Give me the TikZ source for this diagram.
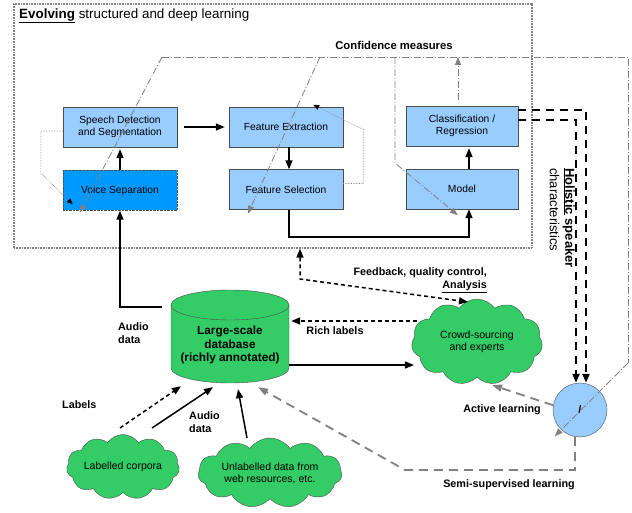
\documentclass[tikz,border=0pt]{standalone}
\usepackage{fontspec}
\setmainfont{Liberation Sans}
\usetikzlibrary{arrows.meta,shapes.symbols,calc}
\definecolor{lblue}{RGB}{153,204,255}
\definecolor{dblue}{RGB}{0,153,255}
\definecolor{dgreen}{RGB}{51,204,102}
\definecolor{lgray}{RGB}{128,128,128}
\begin{document}
\begin{tikzpicture}[x=1pt,y=-1pt,
  box/.style={draw=black!70, fill=lblue, minimum width=114pt, minimum height=40pt, inner sep=1pt, align=center, font=\fontsize{10.3}{12}\selectfont},
  cloudst/.style={cloud, cloud puffs=11, cloud puff arc=110, cloud ignores aspect, draw=black!70, fill=dgreen, inner sep=0pt, align=center, font=\fontsize{10.5}{12}\selectfont},
  thk/.style={line width=1.5pt, -{Triangle[length=9pt,width=7pt]}},
  dsh/.style={line width=1.5pt, dash pattern=on 4pt off 3pt, -{Triangle[length=9pt,width=7pt]}},
  gd/.style={draw=lgray, line width=1.8pt, dash pattern=on 9pt off 6pt, -{Triangle[length=10pt,width=7pt]}},
  hd/.style={line width=2.2pt, dash pattern=on 8pt off 6pt, -{Triangle[length=9pt,width=7pt]}},
  confl/.style={draw=lgray, line width=0.8pt, dash pattern=on 7pt off 2pt on 1pt off 2pt},
  confa/.style={confl, -{Triangle[length=8pt,width=6pt]}},
  dt/.style={draw=lgray, line width=0.6pt, densely dotted, -{Triangle[length=6pt,width=5pt,color=black]}},
  lab/.style={font=\bfseries\fontsize{10.8}{13}\selectfont, inner sep=0pt, align=left}
]
\useasboundingbox (0,0) rectangle (632,513);

% evolving box
\node[draw=lgray, line width=1.3pt, dash pattern=on 1pt off 0.6pt, minimum width=518pt, minimum height=244pt, inner sep=0pt] (evo) at (273,126) {};
\node[anchor=west, font=\fontsize{13.4}{15}\selectfont, inner sep=0pt] (title) at (19,16) {\textbf{\underline{Evolving}} structured and deep learning};
\node[lab, font=\bfseries\fontsize{11.3}{13}\selectfont] (lcm) at (394,45) {Confidence measures};

% boxes
\node[box] (sds) at (120,127) {Speech Detection\\and Segmentation};
\node[box, fill=dblue, densely dotted] (vs) at (120,190.5) {Voice Separation};
\node[box] (fe) at (286,127) {Feature Extraction};
\node[box] (fs) at (286,189.5) {Feature Selection};
\node[box, minimum width=112pt] (cr) at (462,126) {Classification /\\Regression};
\node[box, minimum width=112pt] (mo) at (462,189) {Model};

% database cylinder
\fill[dgreen] (171,305) -- (171,368) arc[start angle=180, end angle=0, x radius=59, y radius=15] -- (289,305) arc[start angle=0, end angle=-180, x radius=59, y radius=15] -- cycle;
\draw[black!70] (171,305) -- (171,368) arc[start angle=180, end angle=0, x radius=59, y radius=15] -- (289,305);
\draw[black!70] (230,305) ellipse[x radius=59, y radius=15];
\node[minimum width=118pt, minimum height=93pt, inner sep=0pt] (db) at (230,336.5) {};
\node[font=\bfseries\fontsize{11.8}{13.5}\selectfont, align=center, inner sep=0pt] (dbl) at (230,345) {Large-scale\\database\\(richly annotated)};

% clouds
\node[cloudst, minimum width=113pt, minimum height=65pt] (lc) at (123,467) {Labelled corpora};
\node[cloudst, minimum width=144pt, minimum height=70pt] (ul) at (270,473) {Unlabelled data from\\web resources, etc.};
\node[cloudst, minimum width=131pt, minimum height=86pt] (crowd) at (477,342) {Crowd-sourcing\\and experts};

% circle
\node[circle, draw=black!70, fill=lblue, minimum size=54pt, inner sep=0pt, font=\bfseries\fontsize{11}{12}\selectfont] (circ) at (580,410) {/};

% main arrows
\draw[thk] ($(sds.east)+(7,0)$) -- ($(fe.west)+(-4,0)$);
\draw[thk] (vs.north) -- ($(sds.south)+(0,2)$);
\draw[thk] ($(fe.south)+(3,0)$) -- ($(fs.north)+(3,0)$);
\draw[thk] ($(mo.north)+(7,0)$) -- ($(cr.south)+(7,2)$);
\draw[thk] ($(fs.south)+(3,0)$) |- ($(mo.south)+(7,28)$) -- ($(mo.south)+(7,0)$);
\coordinate (adin) at (162,307);
\draw[thk] (adin) -| (vs.south);

% db <-> crowd
\coordinate (dbE1) at ($(db.east)+(0,28.5)$);
\draw[thk] (dbE1) -- ($(dbE1 -| crowd.west)+(2,0)$);
\coordinate (rl) at (417,321);
\draw[dsh] (rl) -- ($(rl -| db.east)+(2,0)$);
\coordinate (fb) at (300,279);
\coordinate (fbe) at (468,302);
\draw[dsh, {Triangle[length=9pt,width=7pt]}-{Triangle[length=9pt,width=7pt]}] (fb |- evo.south) -- (fb) -- (fbe);

% sources to db
\draw[dsh] ($(lc.center)+(-3,-39)$) -- ($(db.south)+(-49,3)$);
\draw[thk] ($(lc.center)+(29,-39)$) -- ($(db.south)+(-17,4)$);
\draw[thk] ($(ul.center)+(-23,-35)$) -- ($(db.south)+(8,6)$);

% learning loops
\coordinate (ss) at (405,470);
\draw[gd] ($(circ.south)+(-5,0)$) |- (ss) -- ($(db.south)+(28,4)$);
\coordinate (al) at (492,385);
\draw[gd] (circ.170) -- (al);

% holistic
\draw[hd] ($(cr.east)+(0,-16)$) -| ($(circ.north)+(6,0)$);
\draw[hd] ($(cr.east)+(0,-6)$) -| ($(circ.north)+(-4,0)$);
\node[rotate=-90, anchor=north west, align=left, font=\fontsize{13}{15.5}\selectfont, inner sep=0pt] (lhol) at (575,168) {\textbf{\underline{Holistic} speaker}\\characteristics};

% confidence (dash-dot)
\coordinate (cmL) at (162,57);
\coordinate (cmR) at (628,57);
\coordinate (cmD) at (628,363);
\coordinate (cmM) at (320,57);
\coordinate (cmC) at (395,57);
\coordinate (cmK) at (395,163);
\draw[confl] (cmL) -- (cmR) -- (cmD);
\draw[confa] (cmD) -- ($(circ.225)+(-6,7)$);
\draw[confa] (cmL) -- ($(vs.south west)+(17,2)$);
\draw[confa] (cmM) -- ($(fs.south west)+(19,4)$);
\draw[confa] (cmC) -- (cmK) -- ($(mo.south west)+(52,6)$);
\coordinate (cq) at ($(cr.north)+(-4,-6)$);
\draw[confa] (cq) -- (cq |- cmL);

% dotted feedback
\draw[dt] ($(sds.west)+(0,4)$) -- ++(-22,0) -- ++(0,42) -- ($(vs.north west)+(10,34)$);
\draw[dt] ($(fs.east)+(0,-6)$) -- ++(20,0) -- ++(0,-54) -- ($(fe.north east)+(-30,-2)$);

% labels
\node[lab, anchor=west] (lad1) at (118,333) {Audio\\data};
\node[lab, anchor=west] (llab) at (62,405) {Labels};
\node[lab, anchor=west] (lad2) at (189,422) {Audio\\data};
\node[lab] (lrl) at (335,331) {Rich labels};
\node[lab, anchor=east, align=right] (lfb) at (487,280) {Feedback, quality control,\\\underline{Analysis}};
\node[lab] (lal) at (502,410) {Active learning};
\node[lab] (lss) at (509,485) {Semi-supervised learning};
\end{tikzpicture}
\end{document}
